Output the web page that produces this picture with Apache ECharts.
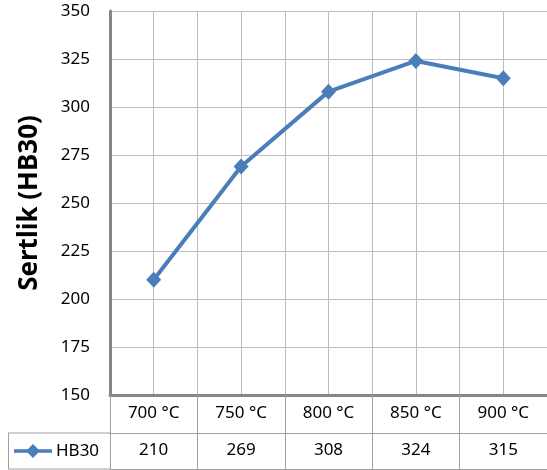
<!DOCTYPE html>
<html>
<head>
<meta charset="utf-8">
<script src="https://cdn.jsdelivr.net/npm/echarts@6/dist/echarts.min.js"></script>
<style>
  html, body { margin: 0; padding: 0; background: #fff; }
  #chart { width: 547px; height: 470px; }
</style>
</head>
<body>
<div id="chart"></div>
<script>
const categories = ['700 °C', '750 °C', '800 °C', '850 °C', '900 °C']
const hb30 = [210, 269, 308, 324, 315]
const seriesName = 'HB30'
const yTitle = 'Sertlik (HB30)'

const FONT = 'Noto Sans'
const BLUE = '#4a7ebb'
const GRID = '#bdbdbd'
const TABLE = '#a0a0a0'
const AXIS = '#868686'

const chart = echarts.init(document.getElementById('chart'))

chart.setOption({
    animation: false,
    textStyle: { fontFamily: FONT },
    grid: { left: 110, top: 11, width: 442, height: 384 },
    yAxis: {
        type: 'value',
        min: 150,
        max: 350,
        interval: 25,
        name: yTitle,
        nameLocation: 'middle',
        nameRotate: 90,
        nameGap: 67,
        nameTextStyle: { fontSize: 26, fontWeight: 'bold', color: '#000', fontFamily: FONT },
        axisLine: { show: true, onZero: false, lineStyle: { color: AXIS, width: 3 } },
        axisTick: { show: false },
        axisLabel: { fontSize: 17, color: '#000', margin: 20, fontFamily: FONT },
        splitLine: { show: true, lineStyle: { color: GRID, width: 1 } }
    },
    xAxis: [
        {
            type: 'category',
            data: categories,
            boundaryGap: true,
            position: 'bottom',
            axisLine: { show: true, onZero: false, lineStyle: { color: AXIS, width: 3 } },
            axisTick: { show: true, interval: 0, length: 74, lineStyle: { color: TABLE } },
            axisLabel: { interval: 0, fontSize: 17, color: '#000', margin: 10, fontFamily: FONT },
            splitLine: { show: true, interval: 0, lineStyle: { color: GRID } }
        },
        {
            // half-category gridlines (through the category centres)
            type: 'value',
            min: 0,
            max: 10,
            interval: 1,
            position: 'bottom',
            axisLine: { show: false },
            axisTick: { show: false },
            axisLabel: { show: false },
            splitLine: { show: true, lineStyle: { color: GRID } }
        },
        {
            // data table: value row
            type: 'category',
            data: hb30.map(String),
            position: 'bottom',
            offset: 38,
            axisLine: { show: true, onZero: false, lineStyle: { color: TABLE, width: 1 } },
            axisTick: { show: false },
            axisLabel: { interval: 0, fontSize: 17, color: '#000', margin: 9, fontFamily: FONT },
            splitLine: { show: false }
        },
        {
            // data table: bottom border
            type: 'category',
            data: categories,
            position: 'bottom',
            offset: 74,
            axisLine: { show: true, onZero: false, lineStyle: { color: TABLE, width: 1 } },
            axisTick: { show: false },
            axisLabel: { show: false },
            splitLine: { show: false }
        }
    ],
    graphic: [
        { type: 'line', shape: { x1: 8, y1: 433, x2: 110, y2: 433 }, style: { stroke: TABLE, lineWidth: 1 } },
        { type: 'line', shape: { x1: 8, y1: 469, x2: 110, y2: 469 }, style: { stroke: TABLE, lineWidth: 1 } },
        { type: 'line', shape: { x1: 8.5, y1: 433, x2: 8.5, y2: 469 }, style: { stroke: TABLE, lineWidth: 1 } },
        { type: 'line', shape: { x1: 14, y1: 451, x2: 52, y2: 451 }, style: { stroke: BLUE, lineWidth: 3.5 } },
        { type: 'polygon', shape: { points: [[33, 444], [40, 451], [33, 458], [26, 451]] }, style: { fill: BLUE } },
        { type: 'text', x: 56, y: 451, style: { text: seriesName, fontSize: 17, fontFamily: FONT, fill: '#000', verticalAlign: 'middle' } }
    ],
    series: [{
        name: seriesName,
        type: 'line',
        xAxisIndex: 0,
        data: hb30,
        symbol: 'diamond',
        symbolSize: [15, 16],
        lineStyle: { color: BLUE, width: 4 },
        itemStyle: { color: BLUE }
    }]
})
</script>
</body>
</html>
